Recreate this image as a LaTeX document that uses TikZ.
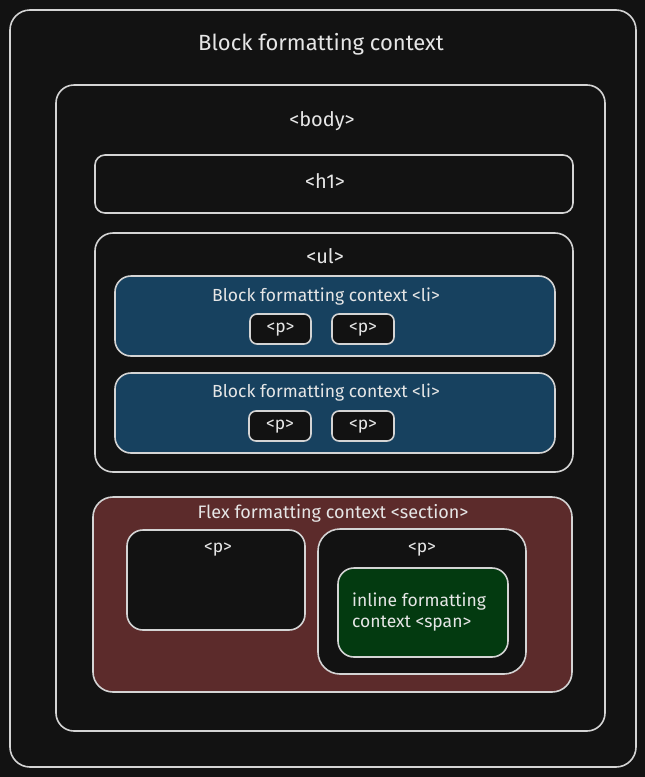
\documentclass[tikz,border=0pt]{standalone}
\usepackage{fontspec}
\setmainfont{Fira Sans}
\definecolor{bg}{HTML}{121212}
\definecolor{edge}{HTML}{D4D4D4}
\definecolor{ink}{HTML}{E6E6E6}
\definecolor{blockblue}{HTML}{17415F}
\definecolor{flexred}{HTML}{5C2B2B}
\definecolor{inlinegreen}{HTML}{033A10}
\tikzset{
  box/.style={draw=edge, line width=1.6pt, fill=bg, rounded corners=#1, inner sep=0pt},
  box/.default=14pt,
  label/.style={text=ink, inner sep=0pt, font=\fontsize{17.5}{21}\selectfont},
  title/.style={label, font=\fontsize{22}{26}\selectfont},
  tag/.style={label, font=\fontsize{20}{24}\selectfont}
}
\begin{document}
\begin{tikzpicture}[x=1pt, y=-1pt]
      \fill[bg] (0,0) rectangle (645,777);
      \useasboundingbox (0,0) rectangle (645,777);
      % outer block formatting context
      \node[box=20pt, minimum width=626pt, minimum height=757pt] (outer) at (323,388.5) {};
      \node[title] (outertext) at (321,44) {Block formatting context};
      % body
      \node[box=18pt, minimum width=549pt, minimum height=646pt] (body) at (330.5,408) {};
      \node[tag] (bodytext) at (322,121) {<body>};
      \node[box=10pt, minimum width=478pt, minimum height=58pt] (h1) at (334,184) {};
      \node[tag] (h1text) at (325,181) {<h1>};
      % list
      \node[box=18pt, minimum width=478pt, minimum height=239pt] (ul) at (334,352.5) {};
      \node[tag] (ultext) at (325,256) {<ul>};
      \node[box=16pt, fill=blockblue, minimum width=440pt, minimum height=80pt] (li1) at (335,316) {};
      \node[label] (li1text) at (326,297) {Block formatting context <li>};
      \node[box=7pt, minimum width=61pt, minimum height=30pt] (p1) at (280.5,329) {};
      \node[label] at ([yshift=-1pt]p1) {<p>};
      \node[box=7pt, minimum width=62pt, minimum height=30pt] (p2) at (363,329) {};
      \node[label] at ([yshift=-1pt]p2) {<p>};
      \node[box=16pt, fill=blockblue, minimum width=440pt, minimum height=80pt] (li2) at (335,413) {};
      \node[label] (li2text) at (326,393) {Block formatting context <li>};
      \node[box=7pt, minimum width=62pt, minimum height=30pt] (p3) at (280,426) {};
      \node[label] at ([yshift=-1pt]p3) {<p>};
      \node[box=7pt, minimum width=62pt, minimum height=30pt] (p4) at (363,426) {};
      \node[label] at ([yshift=-1pt]p4) {<p>};
      % flex section
      \node[box=20pt, fill=flexred, minimum width=479pt, minimum height=195pt] (section) at (332.5,594.5) {};
      \node[label, font=\fontsize{18}{22}\selectfont] (sectiontext) at (333,513) {Flex formatting context <section>};
      \node[box=16pt, minimum width=178pt, minimum height=100pt] (pleft) at (216,580) {};
      \node[label] at (218,550) {<p>};
      \node[box=22pt, minimum width=208pt, minimum height=145pt] (pright) at (422,601.5) {};
      \node[label] at (422,550) {<p>};
      \node[box=16pt, fill=inlinegreen, minimum width=170pt, minimum height=89pt] (span) at (423,612.5) {};
      \node[label, align=left, anchor=west, font=\fontsize{17.5}{21}\selectfont] (spantext) at (352,612) {inline formatting\\context <span>};
    \end{tikzpicture}
\end{document}
